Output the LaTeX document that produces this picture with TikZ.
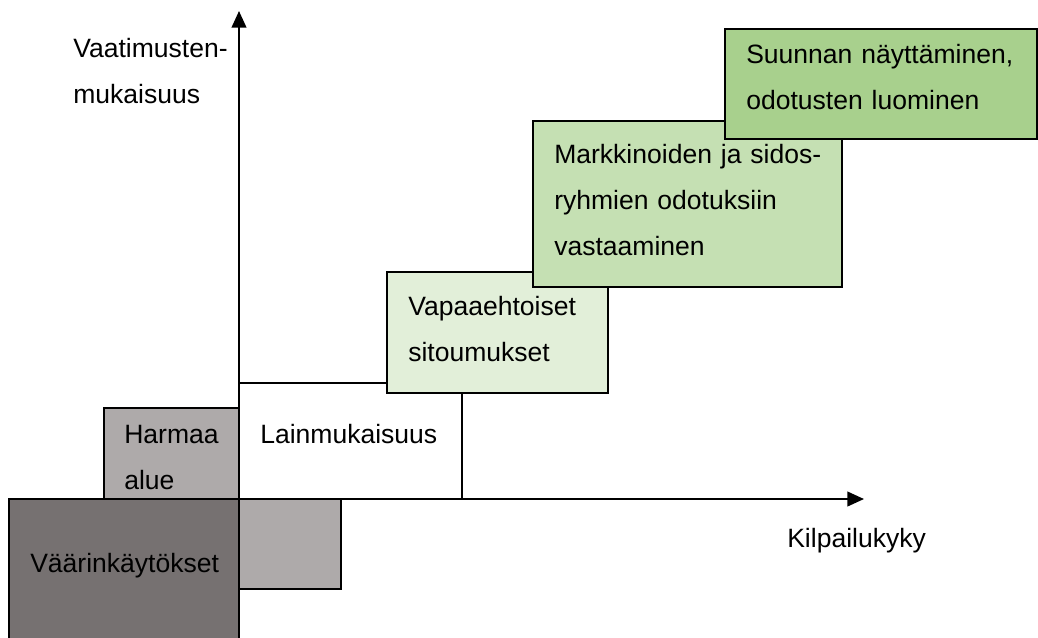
\documentclass[tikz,border=0pt]{standalone}
\usepackage{fontspec}
\setmainfont{Liberation Sans}
\usetikzlibrary{arrows.meta}
\definecolor{darkgray1}{HTML}{767171}
\definecolor{lightgray1}{HTML}{AEAAAA}
\definecolor{green1}{HTML}{E2EFD9}
\definecolor{green2}{HTML}{C5E0B3}
\definecolor{green3}{HTML}{A8D08D}
\tikzset{
  box/.style={draw=black, line width=0.9pt},
  lbl/.style={anchor=base west, inner sep=0pt, align=left, text width=12cm,
    font=\fontsize{19.9}{34.5}\selectfont},
  axis/.style={line width=1.6pt, -{Triangle[length=12.5pt,width=11pt]}},
}
\begin{document}
\begin{tikzpicture}[x=0.75pt,y=-0.75pt]
\clip (0,0) rectangle (1038,637);
\fill[white] (0,0) rectangle (1038,637);
% boxes
\path[box, fill=lightgray1] (104,408) rectangle (239,499);
\path[box, fill=lightgray1] (239,499) rectangle (341,589);
\path[box, fill=darkgray1] (9,499) rectangle (239,660);
\path[box, fill=white] (239,383) rectangle (462,499);
\path[box, fill=green1] (387,272) rectangle (608,393);
\path[box, fill=green2] (533,121) rectangle (842,287);
\path[box, fill=green3] (725,29) rectangle (1037,139);
% axes
\coordinate (O) at (239,499);
\coordinate (Y) at (239,11);
\coordinate (X) at (864,499);
\draw[axis] (O) -- (Y);
\draw[axis] (O) -- (X);
% labels
\node[lbl] (ylab) at (73,57) {Vaatimusten-\\mukaisuus};
\node[lbl] (xlab) at (787,547) {Kilpailukyky};
\node[lbl] (harmaa) at (124,443) {Harmaa\\alue};
\node[lbl] (lain) at (260,443) {Lainmukaisuus};
\node[lbl] (vaarin) at (30,572) {Väärinkäytökset};
\node[lbl] (vapaa) at (408,315) {Vapaaehtoiset\\sitoumukset};
\node[lbl] (markk) at (554,163) {Markkinoiden ja sidos-\\ryhmien odotuksiin\\vastaaminen};
\node[lbl] (suunta) at (746,63) {Suunnan näyttäminen,\\odotusten luominen};
\end{tikzpicture}
\end{document}
